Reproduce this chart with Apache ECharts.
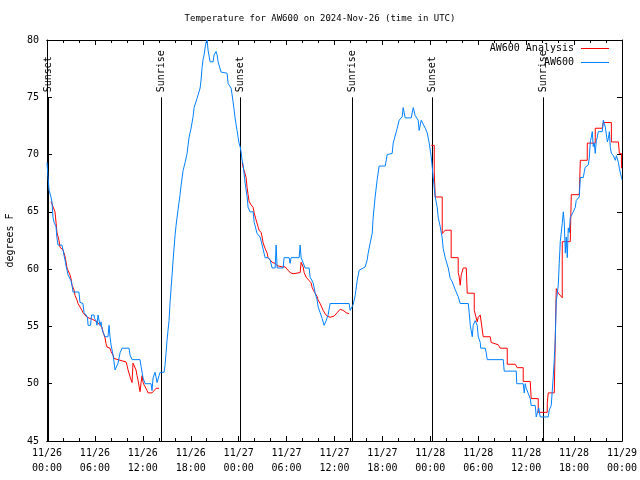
<!DOCTYPE html>
<html><head><meta charset="utf-8">
<script src="https://cdn.jsdelivr.net/npm/echarts@6/dist/echarts.min.js"></script>
<style>html,body{margin:0;padding:0;background:#fff}#c{width:640px;height:480px}</style>
</head><body><div id="c"></div>
<script>
const FONT = 'DejaVu Sans Mono';
const chartTitle = 'Temperature for AW600 on 2024-Nov-26 (time in UTC)';
const xTickLabels = ['11/26\n00:00','11/26\n06:00','11/26\n12:00','11/26\n18:00','11/27\n00:00','11/27\n06:00','11/27\n12:00','11/27\n18:00','11/28\n00:00','11/28\n06:00','11/28\n12:00','11/28\n18:00','11/29\n00:00'];
const seriesNames = ['AW600 Analysis', 'AW600'];
const eventHours = [0.13, 14.23, 24.22, 38.18, 48.18, 62.17];
const eventLabels = ['Sunset','Sunrise','Sunset','Sunrise','Sunset','Sunrise'];
const eventTop = 75;

// [hours since 11/26 00:00 UTC, degrees F]
const observedAW600 = [[0,69.3],[0.13,68.0],[0.19,67.5],[0.25,66.9],[0.5,66.3],[0.63,65.8],[0.75,64.5],[0.88,64.1],[1.13,63.7],[1.25,62.7],[1.38,62.1],[1.88,62.1],[2.0,61.7],[2.13,61.2],[2.26,60.8],[2.38,60.3],[2.51,59.9],[2.63,59.5],[3.0,59.0],[3.13,58.6],[3.26,58.0],[4.0,58.0],[4.13,57.1],[4.5,57.0],[4.64,56.2],[4.89,56.0],[5.07,55.8],[5.14,55.1],[5.45,55.1],[5.58,56.0],[5.89,56.0],[5.95,55.7],[6.14,55.5],[6.26,55.1],[6.39,56.0],[6.64,55.1],[6.77,55.4],[6.89,54.8],[7.02,54.5],[7.27,54.1],[7.64,54.1],[7.77,55.1],[7.89,54.1],[8.02,53.4],[8.27,52.5],[8.39,51.9],[8.52,51.2],[8.77,51.2],[8.9,51.8],[9.15,52.7],[9.4,53.1],[10.27,53.1],[10.4,52.5],[10.65,52.1],[11.65,52.1],[11.78,51.5],[12.03,50.5],[12.28,50.0],[13.03,50.0],[13.15,49.4],[13.28,50.5],[13.53,51.0],[13.65,50.6],[13.78,50.1],[13.97,50.1],[14.03,50.7],[14.16,51.0],[14.66,51.0],[14.78,51.6],[14.91,52.7],[15.03,53.8],[15.16,54.7],[15.28,55.5],[15.41,57.1],[15.66,59.5],[15.79,60.8],[16.04,63.0],[16.16,63.8],[16.41,65.2],[16.66,66.5],[16.79,67.3],[17.04,68.6],[17.29,69.3],[17.54,70.1],[17.66,70.8],[17.79,71.5],[18.04,72.3],[18.29,73.3],[18.42,74.1],[18.67,74.1],[18.79,74.9],[19.04,74.9],[19.17,75.8],[19.29,76.5],[19.42,77.6],[19.54,78.3],[19.67,78.7],[19.79,79.3],[19.92,79.8],[20.05,80.0],[20.17,79.1],[20.42,78.1],[20.8,78.1],[20.92,78.7],[21.17,79.0],[21.3,78.7],[21.42,78.1],[21.67,78.0],[21.8,77.2],[22.55,77.1],[22.68,76.2],[22.93,76.1],[23.05,75.8],[23.18,75.2],[23.3,74.6],[23.43,73.9],[23.55,73.2],[23.68,72.6],[23.8,72.1],[23.93,71.5],[24.05,71.0],[24.18,70.7],[24.31,70.2],[24.43,69.5],[24.56,69.1],[24.81,67.5],[25.06,66.3],[25.18,65.4],[25.43,65.0],[25.81,65.0],[25.94,64.1],[26.31,63.1],[26.69,62.8],[26.94,62.1],[27.31,61.0],[27.69,61.0],[27.94,60.8],[28.19,60.1],[28.57,60.1],[28.69,62.1],[28.82,60.1],[29.57,60.1],[29.69,61.0],[30.32,61.0],[30.44,60.5],[30.57,61.0],[31.57,61.0],[31.7,62.1],[31.82,61.0],[32.07,61.0],[32.32,60.1],[32.82,60.1],[32.95,59.3],[33.33,58.8],[33.58,57.9],[33.83,57.3],[33.95,56.7],[34.2,56.2],[34.45,55.7],[34.7,55.1],[34.95,55.5],[35.2,56.0],[35.45,57.0],[37.83,57.0],[37.96,56.4],[38.21,56.4],[38.34,56.9],[38.59,57.7],[38.84,59.0],[39.09,59.9],[39.84,60.2],[40.09,60.8],[40.22,61.4],[40.47,62.3],[40.72,63.1],[40.84,64.5],[41.09,66.3],[41.34,67.8],[41.59,69.0],[42.35,69.0],[42.6,70.0],[43.22,70.1],[43.35,71.0],[43.6,71.1],[43.85,72.3],[44.1,73.0],[44.48,73.3],[44.6,74.1],[44.85,73.2],[45.6,73.2],[45.86,74.1],[46.1,73.4],[46.48,73.0],[46.6,72.1],[46.86,73.0],[47.11,73.0],[47.36,72.3],[47.61,71.9],[47.86,71.0],[48.11,69.8],[48.24,68.9],[48.36,68.0],[48.61,66.3],[48.86,65.4],[48.99,64.5],[49.24,63.7],[49.49,62.7],[49.61,61.8],[49.86,61.0],[50.24,60.1],[50.49,59.2],[50.74,58.9],[51.12,58.2],[51.49,57.6],[51.74,57.0],[52.75,57.0],[52.87,56.2],[53.0,55.1],[53.25,54.1],[53.37,55.1],[53.62,55.5],[53.87,55.1],[54.0,54.1],[54.25,53.6],[54.31,53.1],[54.87,53.1],[55.0,52.7],[55.12,52.1],[57.13,52.1],[57.25,51.1],[58.76,51.1],[58.82,50.0],[59.63,50.0],[59.76,49.2],[59.88,50.0],[60.01,49.6],[60.26,49.6],[60.51,48.7],[60.63,48.1],[61.14,48.1],[61.26,47.1],[61.51,47.1],[61.57,47.9],[61.7,47.9],[61.76,47.1],[62.76,47.1],[62.89,47.7],[63.14,48.1],[63.27,49.4],[63.39,50.6],[63.52,52.1],[63.64,53.8],[63.77,57.3],[63.83,57.5],[64.02,58.6],[64.14,60.5],[64.27,62.4],[64.52,64.0],[64.65,65.0],[64.77,64.1],[64.9,61.4],[65.02,62.8],[65.15,61.0],[65.27,63.6],[65.4,63.2],[65.52,64.5],[65.77,64.5],[65.9,65.0],[66.15,65.4],[66.27,66.0],[66.65,66.3],[66.78,68.0],[67.15,68.0],[67.28,68.5],[67.4,68.9],[67.78,69.1],[67.9,69.7],[68.03,71.1],[68.15,71.5],[68.28,72.0],[68.4,70.7],[68.53,71.0],[68.65,70.1],[68.78,71.2],[68.9,71.5],[69.03,72.0],[69.53,72.0],[69.66,73.0],[69.78,72.7],[69.91,72.4],[70.17,71.1],[70.29,71.4],[70.42,72.0],[70.54,70.6],[70.67,70.1],[70.92,69.9],[71.17,69.5],[71.3,69.9],[71.42,69.9],[71.55,69.3],[71.67,68.8],[71.93,68.0],[72.0,67.8]];

const analysisNight1 = [[0.5,65.9],[0.75,65.8],[1.0,65.0],[1.13,64.1],[1.25,63.2],[1.5,62.5],[1.63,61.9],[2.0,61.7],[2.26,61.1],[2.51,60.1],[2.63,59.9],[2.88,59.5],[3.0,59.2],[3.13,58.6],[3.38,58.2],[3.51,57.7],[3.76,57.3],[3.88,57.0],[4.13,56.7],[4.38,56.4],[4.51,56.2],[5.01,55.8],[5.39,55.7],[5.76,55.6],[6.01,55.5],[6.26,55.4],[6.39,55.3],[6.64,55.1],[6.89,54.9],[7.02,54.5],[7.27,54.0],[7.39,53.5],[7.52,53.2],[7.89,53.1],[8.02,52.8],[8.27,52.5],[8.39,52.2],[8.52,52.1],[9.9,51.9],[10.02,51.6],[10.15,51.2],[10.4,50.6],[10.65,50.1],[10.77,51.8],[11.02,51.8],[11.15,51.2],[11.28,50.7],[11.4,50.3],[11.65,49.3],[11.78,50.1],[11.9,50.7],[12.03,50.1],[12.15,49.9],[12.53,49.4],[12.65,49.2],[13.15,49.2],[13.28,49.3],[13.66,49.6],[14.03,49.6]];

const analysisNight2 = [[24.43,69.3],[24.56,68.9],[24.81,68.8],[24.93,68.0],[25.06,67.1],[25.18,66.5],[25.31,65.9],[25.56,65.6],[25.81,65.4],[25.94,64.9],[26.18,64.3],[26.43,63.7],[26.56,63.4],[26.81,63.2],[26.94,62.8],[27.06,62.3],[27.31,61.8],[27.56,61.4],[27.69,61.0],[27.94,61.0],[28.19,60.6],[28.57,60.5],[28.82,60.3],[29.44,60.2],[29.82,60.2],[30.19,59.9],[30.44,59.7],[30.82,59.6],[31.7,59.7],[31.82,60.6],[32.07,60.2],[32.2,59.7],[32.45,59.3],[32.57,59.2],[32.82,59.0],[33.07,58.8],[33.2,58.4],[33.33,58.2],[33.58,57.9],[33.83,57.6],[33.95,57.3],[34.2,57.0],[34.58,56.4],[34.83,56.1],[35.08,55.9],[35.45,55.8],[35.95,55.9],[36.33,56.2],[36.71,56.5],[37.08,56.4],[37.46,56.2],[37.83,56.1]];

const analysisNight3 = [[48.11,70.8],[48.49,70.8],[48.49,68.5],[48.61,66.3],[49.49,66.3],[49.49,63.1],[49.86,63.4],[50.61,63.4],[50.61,61.0],[51.49,61.0],[51.49,59.7],[51.62,59.3],[51.74,58.6],[51.87,59.5],[52.12,60.1],[52.5,60.1],[52.62,57.9],[53.5,57.9],[53.5,56.4],[53.87,55.4],[54.0,55.8],[54.25,56.0],[54.5,56.0],[54.62,54.1],[55.5,54.1],[55.62,53.6],[56.5,53.4],[56.75,53.1],[57.63,53.1],[57.63,51.7],[58.63,51.7],[58.88,51.4],[59.63,51.4],[59.63,50.2],[60.51,50.2],[60.63,48.7],[61.51,48.7],[61.51,47.5],[62.64,47.5],[62.64,48.3],[62.76,49.2],[63.52,49.2],[63.64,53.8],[63.77,58.3],[64.02,57.9],[64.52,57.5],[64.52,62.4],[65.52,62.4],[65.65,66.5],[66.65,66.5],[66.78,69.5],[67.65,69.5],[67.65,71.0],[68.65,71.0],[68.65,72.3],[69.53,72.3],[69.66,72.8],[70.67,72.8],[70.67,71.1],[71.55,71.1],[71.67,70.1],[71.93,70.1],[71.93,68.8]];

const RED = '#ff0000', BLUE = '#0080ff';
const analysisData = analysisNight1.concat([[14.1,'-']], analysisNight2, [[40,'-']], analysisNight3);

const chart = echarts.init(document.getElementById('c'), null, {renderer:'canvas'});
const txt = {fontFamily: FONT, fontSize: 10, color: '#000'};
function xAx(pos, interval, len, labels){
  return {type:'value', min:0, max:72, interval: interval, position: pos,
    axisLine:{show:true, lineStyle:{color:'#000', width:1}},
    axisTick:{show:true, inside:true, length:len, lineStyle:{color:'#000'}},
    axisLabel: labels ? Object.assign({show:true, lineHeight:15, margin:5, formatter: v => xTickLabels[Math.round(v/6)]}, txt) : {show:false},
    splitLine:{show:false}};
}
function yAx(pos, labels){
  return {type:'value', min:45, max:80, interval:5, position: pos,
    axisLine:{show:true, onZero:false, lineStyle:{color:'#000', width:1}},
    axisTick:{show:true, inside:true, length:5, lineStyle:{color:'#000'}},
    axisLabel: labels ? Object.assign({show:true, margin:8}, txt) : {show:false},
    splitLine:{show:false},
    name: labels ? 'degrees F' : '', nameLocation:'middle', nameGap:32, nameRotate:90,
    nameTextStyle: txt};
}
chart.setOption({
  animation:false,
  backgroundColor:'#fff',
  grid:{left:47, right:18, top:40, height:401, containLabel:false, outerBoundsMode:'none'},
  xAxis:[xAx('bottom',6,5,true), xAx('top',6,5,false), xAx('bottom',2,3,false), xAx('top',2,3,false)],
  yAxis:[yAx('left',true), yAx('right',false)],
  graphic:[
    {type:'text', x:320, y:19, style:{text:chartTitle, font:'9px "'+FONT+'"', fill:'#000', align:'center', verticalAlign:'middle'}},
    {type:'text', x:574, y:48, style:{text:seriesNames[0], font:'10px "'+FONT+'"', fill:'#000', align:'right', verticalAlign:'middle'}, z:10},
    {type:'line', shape:{x1:581, y1:48.5, x2:609, y2:48.5}, style:{stroke:RED, lineWidth:1}, z:10},
    {type:'text', x:574, y:62, style:{text:seriesNames[1], font:'10px "'+FONT+'"', fill:'#000', align:'right', verticalAlign:'middle'}, z:10},
    {type:'line', shape:{x1:581, y1:62.5, x2:609, y2:62.5}, style:{stroke:BLUE, lineWidth:1}, z:10}
  ],
  series:[
    {type:'custom', name:'events', xAxisIndex:0, yAxisIndex:0, z:1,
     data: eventHours.map(h => [h]),
     renderItem: function(params, api){
       const t = api.value(0);
       const p0 = api.coord([t, 45]);
       const p1 = api.coord([t, eventTop]);
       const x = Math.round(p0[0]) + 0.5;
       return {type:'group', children:[
         {type:'line', shape:{x1:x, y1:p0[1], x2:x, y2:p1[1]}, style:{stroke:'#000', lineWidth:1}},
         {type:'text', x:x, y:p1[1]-5, rotation:Math.PI/2,
          style:{text:eventLabels[params.dataIndex], font:'10px "'+FONT+'"', fill:'#000', align:'left', verticalAlign:'middle'}}
       ]};
     }},
    {type:'line', name:seriesNames[0], data:analysisData, symbol:'none', showSymbol:false, connectNulls:false,
     lineStyle:{color:RED, width:1}, itemStyle:{color:RED}, z:2},
    {type:'line', name:seriesNames[1], data:observedAW600, symbol:'none', showSymbol:false,
     lineStyle:{color:BLUE, width:1}, itemStyle:{color:BLUE}, z:3}
  ]
});
</script></body></html>
